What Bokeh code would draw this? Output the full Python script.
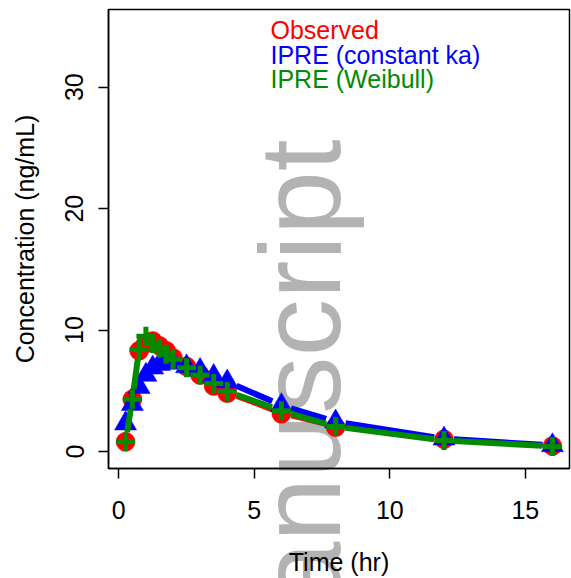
import math
from bokeh.plotting import figure
from bokeh.models import Range1d, FixedTicker, Label, GridBox
from bokeh.embed import file_html
from bokeh.resources import INLINE

# ---- data ----
time_hr = [0.25, 0.5, 0.75, 1, 1.25, 1.5, 1.75, 2, 2.5, 3, 3.5, 4, 6, 8, 12, 16]
observed = [0.8, 4.3, 8.3, 8.9, 9.1, 8.7, 8.3, 7.7, 7.0, 6.3, 5.4, 4.8, 3.1, 2.0, 1.0, 0.45]
ipre_constant_ka = [2.3, 3.9, 5.3, 6.3, 6.9, 7.2, 7.35, 7.3, 7.0, 6.7, 6.2, 5.75, 3.8, 2.45, 1.05, 0.5]
ipre_weibull = [0.8, 4.3, 8.4, 9.5, 8.9, 8.5, 8.0, 7.6, 6.9, 6.3, 5.6, 4.95, 3.35, 2.05, 0.9, 0.42]
x_ticks = [0, 5, 10, 15]
y_ticks = [0, 10, 20, 30]
legend_labels = ["Observed", "IPRE (constant ka)", "IPRE (Weibull)"]
watermark_text = "anuscript"

# ---- layout ----
W, H = 571, 578
BL, BR, BT, BB = 108, 2, 9, 109
X0, X1 = -0.38, 16.63
Y0, Y1 = -1.4, 36.4
FW, FH = W - BL - BR, H - BT - BB
SX, SY = FW / (X1 - X0), FH / (Y1 - Y0)

RED, BLUE, GREEN = "#ff0000", "#0000ff", "#008b00"
FONT = "Liberation Sans"

# background figure that only carries the watermark (covers the whole canvas)
bg = figure(width=W, height=H, output_backend="svg", toolbar_location=None,
            x_range=Range1d(0, W), y_range=Range1d(0, H),
            x_axis_type=None, y_axis_type=None,
            min_border_left=0, min_border_right=0, min_border_top=0, min_border_bottom=0)
bg.grid.visible = False
bg.outline_line_color = None
bg.background_fill_color = "white"
bg.border_fill_color = "white"
bg.add_layout(Label(x=299, y=H - 372, text=watermark_text, angle=math.pi / 2,
                    text_align="center", text_baseline="middle", text_color="#b3b3b3",
                    text_font=FONT, text_font_size="115px"))

p = figure(width=W, height=H, output_backend="svg", toolbar_location=None,
           x_range=Range1d(X0, X1), y_range=Range1d(Y0, Y1),
           min_border_left=BL, min_border_right=BR, min_border_top=BT,
           min_border_bottom=BB)
p.grid.visible = False
p.outline_line_color = "black"
p.outline_line_width = 1.5
p.background_fill_alpha = 0
p.border_fill_alpha = 0

# keep the two overlapping figures from aligning their frames
for fig in (bg, p):
    try:
        fig.frame_align = False
    except Exception:
        pass


def sx_to_data(px):
    return X0 + (px - BL) / SX


def sy_to_data(py):
    return Y0 + (BT + FH - py) / SY


def gapped(xs, ys, gap=10.0):
    x0s, y0s, x1s, y1s = [], [], [], []
    for i in range(len(xs) - 1):
        dx = (xs[i + 1] - xs[i]) * SX
        dy = (ys[i + 1] - ys[i]) * SY
        L = math.hypot(dx, dy)
        if L <= 2 * gap:
            continue
        f = gap / L
        x0s.append(xs[i] + f * (xs[i + 1] - xs[i]))
        y0s.append(ys[i] + f * (ys[i + 1] - ys[i]))
        x1s.append(xs[i + 1] - f * (xs[i + 1] - xs[i]))
        y1s.append(ys[i + 1] - f * (ys[i + 1] - ys[i]))
    return x0s, y0s, x1s, y1s


a, b, c, d = gapped(time_hr, observed)
p.segment(a, b, c, d, line_color=RED, line_width=4, line_cap="butt")
p.scatter(time_hr, observed, marker="circle", size=19, fill_color=RED,
          line_color=RED, line_width=0.5)

a, b, c, d = gapped(time_hr, ipre_constant_ka)
p.segment(a, b, c, d, line_color=BLUE, line_width=6, line_cap="butt")
p.scatter(time_hr, ipre_constant_ka, marker="triangle", size=22,
          fill_color=BLUE, line_color=BLUE, line_width=0.5)

a, b, c, d = gapped(time_hr, ipre_weibull)
p.segment(a, b, c, d, line_color=GREEN, line_width=6, line_cap="butt")
p.scatter(time_hr, ipre_weibull, marker="cross", size=19,
          line_color=GREEN, line_width=5)

for lab, col, py in zip(legend_labels, [RED, BLUE, GREEN], [30, 55, 79]):
    p.add_layout(Label(x=sx_to_data(270), y=sy_to_data(py), text=lab, text_color=col,
                       text_font=FONT, text_font_size="25px", text_baseline="middle",
                       text_align="left"))

for ax in (p.xaxis[0], p.yaxis[0]):
    ax.axis_line_color = "black"
    ax.axis_line_width = 1.5
    ax.major_tick_line_width = 1.5
    ax.major_tick_line_color = "black"
    ax.major_tick_in = 0
    ax.major_tick_out = 10
    ax.minor_tick_line_color = None
    ax.major_label_text_font = FONT
    ax.major_label_text_font_size = "25px"
    ax.major_label_text_color = "black"
    ax.axis_label_text_font = FONT
    ax.axis_label_text_font_size = "25px"
    ax.axis_label_text_font_style = "normal"
    ax.axis_label_text_color = "black"

p.xaxis.ticker = FixedTicker(ticks=x_ticks)
p.yaxis.ticker = FixedTicker(ticks=y_ticks)
p.xaxis.axis_label = "Time (hr)"
p.yaxis.axis_label = "Concentration (ng/mL)"
p.yaxis.major_label_orientation = "vertical"
p.xaxis.major_label_standoff = 22
p.yaxis.major_label_standoff = 15
p.xaxis.axis_label_standoff = 26
p.yaxis.axis_label_standoff = 24

layout = GridBox(children=[(bg, 0, 0), (p, 0, 0)])
open("out.html", "w").write(file_html(layout, INLINE))
